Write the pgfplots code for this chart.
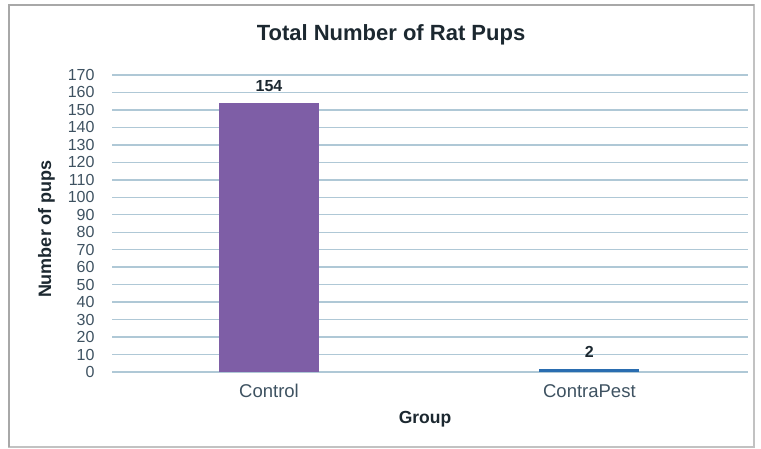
\documentclass[border=0pt]{standalone}
\usepackage{pgfplots}
\pgfplotsset{compat=1.18}
\usepackage{fontspec}
\setmainfont{Liberation Sans}
\definecolor{barpurple}{HTML}{7E5EA6}
\definecolor{barblue}{HTML}{2A6DB0}
\definecolor{gridc}{HTML}{AFC8D6}
\definecolor{tickc}{HTML}{3E5261}
\definecolor{titlec}{HTML}{1C2830}
\definecolor{framec}{HTML}{A8A8A8}
\begin{document}
\begin{tikzpicture}
\useasboundingbox (0,0) rectangle (761bp,449bp);
\draw[framec!70, line width=1.2bp] (8.5bp,2bp) rectangle (754bp,444bp);
\draw[framec, line width=2bp] (8.5bp,2bp) -- (8.5bp,444bp) -- (754bp,444bp);
\begin{axis}[
  at={(112bp,77bp)}, anchor=south west,
  scale only axis, width=636bp, height=297bp,
  xmin=-0.49, xmax=1.495, ymin=0, ymax=170,
  ytick={0,10,...,170},
  xtick={0,1}, xticklabels={Control,ContraPest},
  axis line style={draw=none},
  major tick length=0pt,
  ymajorgrids, grid style={gridc, line width=1.4bp},
  /pgf/number format/assume math mode=true,
  tick label style={font=\fontsize{16bp}{16bp}\selectfont, text=tickc},
  yticklabel style={xshift=-14bp},
  xticklabel style={anchor=base, yshift=-25bp, font=\fontsize{18.5bp}{18.5bp}\selectfont},
  title={Total Number of Rat Pups},
  title style={at={(axis description cs:0.5,1)}, anchor=base, xshift=-39bp, yshift=29bp,
    font=\fontsize{22bp}{22bp}\selectfont\bfseries, text=titlec},
  xlabel={Group},
  xlabel style={at={(axis description cs:0.5,0)}, anchor=base, yshift=-51bp, xshift=-5bp,
    font=\fontsize{17.5bp}{17.5bp}\selectfont\bfseries, text=titlec},
  ylabel={Number of pups},
  ylabel style={at={([xshift=-61bp,yshift=-5.5bp]axis description cs:0,0.5)}, anchor=base, rotate=0,
    font=\fontsize{18bp}{18bp}\selectfont\bfseries, text=titlec},
  ybar, bar width=100bp, bar shift=0pt,
  nodes near coords,
  nodes near coords style={anchor=base, yshift=11bp, font=\fontsize{16bp}{16bp}\selectfont\bfseries, text=titlec},
  clip=false,
]
\addplot[fill=barpurple, draw=none] coordinates {(0,154)};
\addplot[fill=barblue, draw=none] coordinates {(1,2)};
\end{axis}
\end{tikzpicture}
\end{document}
